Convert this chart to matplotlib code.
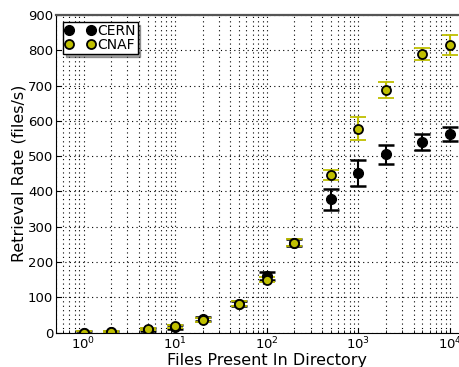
import numpy as np
import matplotlib
matplotlib.use('Agg')
import matplotlib.pyplot as plt

# files present in directory
nfiles = [1, 2, 5, 10, 20, 50, 100, 200, 500, 1000, 2000, 5000, 10000]

# retrieval rates (files/s) and errors
cern_rate = [0, 1, 8, 15, 38, 82, 160, 255, 378, 452, 505, 540, 563]
cern_err = [4, 4, 5, 5, 6, 8, 12, 10, 30, 37, 27, 22, 20]
cnaf_rate = [0, 2, 10, 18, 35, 82, 150, 255, 447, 578, 688, 789, 815]
cnaf_err = [3, 3, 4, 4, 5, 6, 8, 10, 14, 33, 23, 17, 27]

fig = plt.figure(figsize=(4.59, 3.67), dpi=100)
# axes runs past the right border, as in the original
ax = fig.add_axes([56 / 459., 1 - 332.5 / 367., (477.6 - 56) / 459., (332.5 - 15) / 367.])

ax.errorbar(nfiles, cern_rate, yerr=cern_err, fmt='o', color='k', ms=7,
            capsize=6, elinewidth=1.5, capthick=1.8, mec='k', mfc='k')
ax.errorbar(nfiles, cnaf_rate, yerr=cnaf_err, fmt='o', color='y', ms=6.5,
            capsize=6, elinewidth=1.5, capthick=1.8, mec='k', mew=1.3, mfc='y',
            ecolor='y')

# legend markers only (two per entry)
h1, = ax.plot([], [], 'o', color='k', ms=7, label='CERN')
h2, = ax.plot([], [], 'o', mfc='y', mec='k', mew=1.3, ms=6.5, label='CNAF')
leg = ax.legend(handles=[h1, h2], loc='upper left', numpoints=2, shadow=True,
                fancybox=False, fontsize=10, handletextpad=0.1,
                borderpad=0.15, labelspacing=0.0, handlelength=2.2,
                framealpha=1, borderaxespad=0.5)
leg.get_frame().set_edgecolor('k')

ax.set_xscale('log')
ax.set_xlim(0.5, 20000)
ax.set_ylim(0, 900)
ax.set_yticks(np.arange(0, 901, 100))

ax.grid(True, which='major', axis='both', linestyle=(0, (1, 3)), color='k', linewidth=0.8)
ax.grid(True, which='minor', axis='x', linestyle=(0, (1, 3)), color='k', linewidth=0.8)
ax.spines['top'].set_color('#555555')
ax.spines['top'].set_linewidth(1.6)

ax.tick_params(which='both', direction='in', labelsize=9.5, pad=2)
ax.set_xlabel('Files Present In Directory', fontsize=11.5, labelpad=1)
ax.set_ylabel('Retrieval Rate (files/s)', fontsize=11.5, labelpad=1)

fig.savefig('out.png', dpi=100)
